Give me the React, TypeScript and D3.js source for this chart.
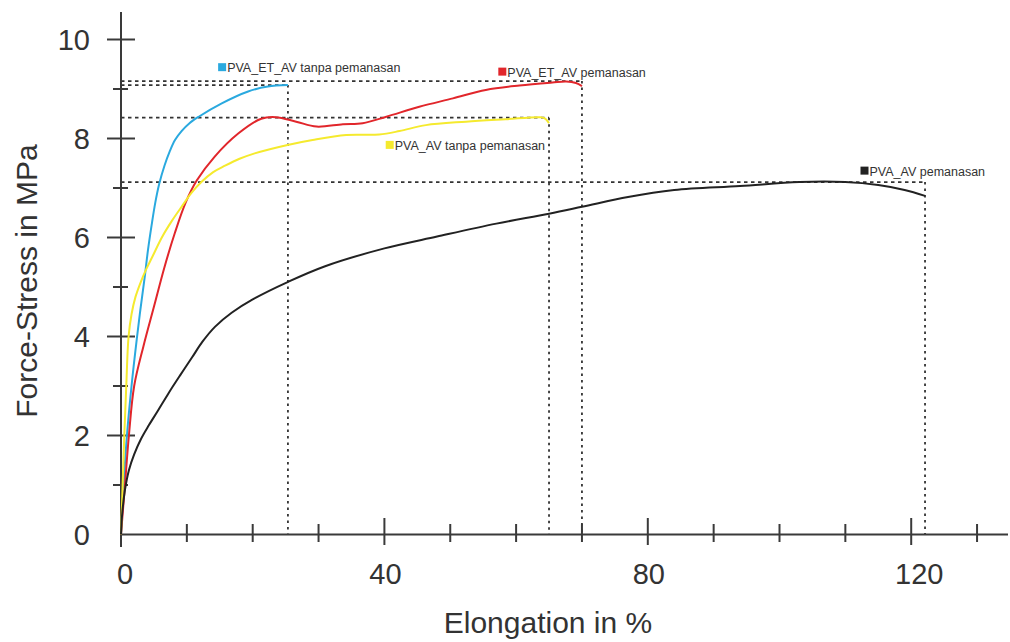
import React from "react";
import * as d3 from "d3";

type Pt = [number, number];

const blueSeries: Pt[] = [[0,0],[0.4,1.0],[0.9,2.0],[1.6,3.0],[2.4,3.95],[3.0,4.6],[3.6,5.2],[4.1,5.75],[4.65,6.25],[5.2,6.7],[5.8,7.08],[6.6,7.45],[7.4,7.74],[8.2,7.97],[9.2,8.15],[10.4,8.31],[11.8,8.44],[15.3,8.71],[19.3,8.95],[22.3,9.05],[25.35,9.08]];
const redSeries: Pt[] = [[0,0],[0.6,1.0],[1.2,2.0],[2.0,3.0],[3.4,3.8],[5.0,4.6],[6.6,5.4],[8.2,6.1],[9.8,6.7],[11.5,7.15],[14.2,7.63],[17.8,8.1],[21.3,8.4],[23.5,8.43],[26.6,8.34],[29.7,8.24],[33.7,8.29],[36.7,8.31],[40.3,8.44],[45.3,8.64],[50.4,8.81],[55.4,8.98],[60.5,9.07],[65.5,9.13],[67.6,9.15],[69.1,9.12],[70.0,9.06]];
const yellowSeries: Pt[] = [[0,0],[0.25,1.0],[0.5,2.0],[0.8,3.0],[1.15,4.0],[1.6,4.45],[2.2,4.8],[3.0,5.1],[3.8,5.35],[4.8,5.62],[6.2,6.0],[7.7,6.33],[9.2,6.62],[10.7,6.9],[12.2,7.12],[14,7.32],[15.8,7.45],[18,7.59],[20.3,7.7],[25.3,7.87],[29.1,7.97],[34.2,8.07],[39.2,8.08],[42.3,8.15],[46.3,8.27],[52.4,8.34],[58.4,8.39],[63.6,8.43],[64.3,8.41],[65.0,8.31]];
const blackSeries: Pt[] = [[0,0],[0.2,0.45],[0.6,0.9],[1.2,1.3],[2.0,1.62],[3.0,1.92],[4.2,2.2],[5.6,2.5],[7.2,2.85],[9,3.22],[10.8,3.58],[12.4,3.9],[14.3,4.2],[16.8,4.48],[20,4.75],[25.3,5.1],[31,5.42],[40,5.78],[48,6.02],[57,6.28],[65,6.48],[70,6.62],[77,6.82],[84,6.96],[94,7.04],[103,7.12],[110,7.12],[115,7.06],[119,6.96],[122.1,6.84]];

const seriesNames = ["PVA_ET_AV tanpa pemanasan", "PVA_ET_AV pemanasan", "PVA_AV tanpa pemanasan", "PVA_AV pemanasan"];
const seriesColors = ["#2aa9df", "#e1262b", "#f5ea2e", "#222222"];
const allSeries = [blueSeries, redSeries, yellowSeries, blackSeries];

// guide lines: [max stress, x at break]
const guideH: { y: number; x: number }[] = [
  { y: 9.16, x: 70.0 },
  { y: 9.08, x: 25.35 },
  { y: 8.42, x: 65.0 },
  { y: 7.12, x: 122.1 },
];
const guideV: { x: number; y: number }[] = [
  { x: 25.35, y: 9.08 },
  { x: 65.0, y: 8.42 },
  { x: 70.0, y: 9.16 },
  { x: 122.1, y: 7.12 },
];

const xMajor = [0, 40, 80, 120];
const xMinor = [10, 20, 30, 50, 60, 70, 90, 100, 110, 130];
const yMajor = [0, 2, 4, 6, 8, 10];
const yMinor = [1, 3, 5, 7, 9];

// legend label anchors (data coords)
const labelPos: Pt[] = [[14.75, 9.34], [57.3, 9.25], [40.2, 7.77], [112.3, 7.25]];

export default function App() {
  const x = d3.scaleLinear().domain([0, 134.7]).range([121, 1008]);
  const y = d3.scaleLinear().domain([0, 10]).range([534.5, 39.5]);
  const line = d3
    .line<Pt>()
    .x((d) => x(d[0]))
    .y((d) => y(d[1]))
    .curve(d3.curveCatmullRom.alpha(0.5));
  const axisColor = "#3a3a3a";
  const font = "Liberation Sans, Arial, sans-serif";
  return (
    <svg
      width={1010}
      height={642}
      style={{ position: "absolute", left: 0, top: 0, background: "#fff" }}
      fontFamily={font}
    >
      <rect width={1010} height={642} fill="#fff" />
      {/* guide dotted lines */}
      {guideH.map((g, i) => (
        <line key={"h" + i} x1={x(0)} x2={x(g.x)} y1={y(g.y)} y2={y(g.y)} stroke="#333" strokeWidth={1.8} strokeDasharray="3.5 3.5" />
      ))}
      {guideV.map((g, i) => (
        <line key={"v" + i} x1={x(g.x)} x2={x(g.x)} y1={y(g.y)} y2={y(0)} stroke="#333" strokeWidth={1.8} strokeDasharray="2.5 4" />
      ))}
      {/* axes */}
      <line x1={x(0)} x2={x(0)} y1={12} y2={547} stroke={axisColor} strokeWidth={2} />
      <line x1={x(0)} x2={1008} y1={y(0)} y2={y(0)} stroke={axisColor} strokeWidth={2} />
      {yMajor.filter((v) => v > 0).map((v) => (
        <line key={"ym" + v} x1={107} x2={135} y1={y(v)} y2={y(v)} stroke={axisColor} strokeWidth={2} />
      ))}
      {yMinor.map((v) => (
        <line key={"yn" + v} x1={113} x2={128} y1={y(v)} y2={y(v)} stroke={axisColor} strokeWidth={2} />
      ))}
      {xMajor.filter((v) => v > 0).map((v) => (
        <line key={"xm" + v} x1={x(v)} x2={x(v)} y1={518} y2={545} stroke={axisColor} strokeWidth={2} />
      ))}
      {xMinor.map((v) => (
        <line key={"xn" + v} x1={x(v)} x2={x(v)} y1={524} y2={542} stroke={axisColor} strokeWidth={2} />
      ))}
      {/* tick labels */}
      {yMajor.map((v) => (
        <text key={"yl" + v} x={90} y={y(v)} dy="0.36em" textAnchor="end" fontSize={29} fill="#333">
          {v}
        </text>
      ))}
      {xMajor.map((v) => (
        <text key={"xl" + v} x={x(v) + (v === 0 ? 4 : v === 120 ? 8 : 1)} y={584} textAnchor="middle" fontSize={29} fill="#333">
          {v}
        </text>
      ))}
      {/* axis titles */}
      <text x={548} y={633} textAnchor="middle" fontSize={30} fill="#333">
        Elongation in %
      </text>
      <text transform="translate(37,281) rotate(-90)" textAnchor="middle" fontSize={30} fill="#333">
        Force-Stress in MPa
      </text>
      {/* curves */}
      {allSeries.map((s, i) => (
        <path key={"c" + i} d={line(s) || ""} fill="none" stroke={seriesColors[i]} strokeWidth={2} strokeLinejoin="round" />
      ))}
      {/* labels */}
      {labelPos.map((p, i) => (
        <g key={"lg" + i}>
          <rect x={x(p[0])} y={y(p[1]) - 9} width={8} height={8} fill={seriesColors[i]} />
          <text x={x(p[0]) + 9} y={y(p[1])} fontSize={12.5} fill="#333">
            {seriesNames[i]}
          </text>
        </g>
      ))}
    </svg>
  );
}
